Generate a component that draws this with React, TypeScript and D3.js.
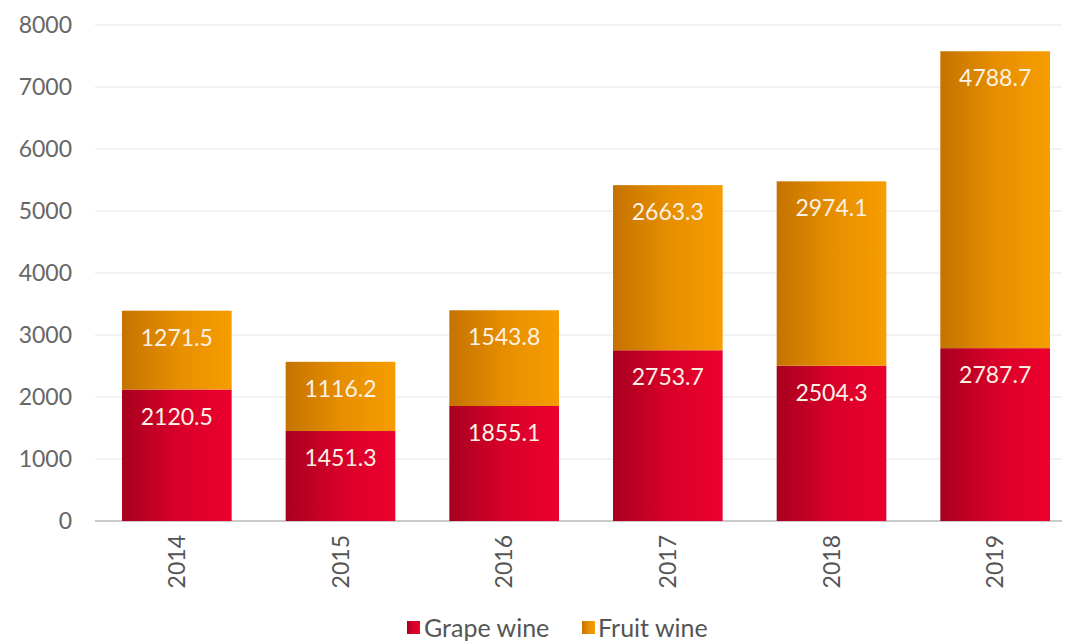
import React from "react";
import * as d3 from "d3";

const years = ["2014", "2015", "2016", "2017", "2018", "2019"];
const grapeWine = [2120.5, 1451.3, 1855.1, 2753.7, 2504.3, 2787.7];
const fruitWine = [1271.5, 1116.2, 1543.8, 2663.3, 2974.1, 4788.7];
const yTicks = [0, 1000, 2000, 3000, 4000, 5000, 6000, 7000, 8000];

const W = 1078;
const H = 642;
const FONT = "Lato, 'Open Sans', sans-serif";

export default function App() {
  const x = d3.scaleBand<string>().domain(years).range([95, 1077]).paddingInner(0.33).paddingOuter(0.165);
  const y = d3.scaleLinear().domain([0, 8000]).range([521, 25]);
  const bw = x.bandwidth();

  return (
    <div style={{ position: "fixed", left: 0, top: 0 }}>
      <svg width={W} height={H} style={{ display: "block", background: "#fff" }}>
        <defs>
          <linearGradient id="gRed" x1="0" x2="1" y1="0" y2="0">
            <stop offset="0" stopColor="#a8001f" />
            <stop offset="0.5" stopColor="#d8002a" />
            <stop offset="1" stopColor="#ec002e" />
          </linearGradient>
          <linearGradient id="gOrange" x1="0" x2="1" y1="0" y2="0">
            <stop offset="0" stopColor="#c47300" />
            <stop offset="0.5" stopColor="#e68e00" />
            <stop offset="1" stopColor="#f79d00" />
          </linearGradient>
        </defs>

        {/* gridlines */}
        {yTicks.map((t) => (
          <line key={t} x1={95} x2={1062} y1={y(t)} y2={y(t)}
            stroke={t === 0 ? "#b8b8b8" : "#e6e6e6"} strokeWidth={t === 0 ? 1.5 : 1} />
        ))}

        {/* y tick labels */}
        {yTicks.map((t) => (
          <text key={"l" + t} x={72} y={y(t)} dy="0.35em" textAnchor="end"
            fontFamily={FONT} fontSize={23} fill="#666">{t}</text>
        ))}

        {/* bars */}
        {years.map((yr, i) => {
          const x0 = x(yr)!;
          const g = grapeWine[i];
          const f = fruitWine[i];
          return (
            <g key={yr}>
              <rect x={x0} y={y(g)} width={bw} height={y(0) - y(g)} fill="url(#gRed)" />
              <rect x={x0} y={y(g + f)} width={bw} height={y(g) - y(g + f)} fill="url(#gOrange)" />
              <text x={x0 + bw / 2} y={y(g) + 27} dy="0.35em" textAnchor="middle"
                fontFamily={FONT} fontSize={23} fill="#fbf1e4">{g.toFixed(1)}</text>
              <text x={x0 + bw / 2} y={y(g + f) + 27} dy="0.35em" textAnchor="middle"
                fontFamily={FONT} fontSize={23} fill="#fbf1e4">{f.toFixed(1)}</text>
              <text transform={`translate(${x0 + bw / 2},535) rotate(-90)`} dy="0.35em" textAnchor="end"
                fontFamily={FONT} fontSize={23} fill="#555">{yr}</text>
            </g>
          );
        })}

        {/* legend */}
        <g fontFamily={FONT} fontSize={25} fill="#555">
          <rect x={407} y={621} width={13} height={13} fill="url(#gRed)" />
          <text x={424} y={628} dy="0.35em">Grape wine</text>
          <rect x={582} y={621} width={13} height={13} fill="url(#gOrange)" />
          <text x={598} y={628} dy="0.35em">Fruit wine</text>
        </g>
      </svg>
    </div>
  );
}
